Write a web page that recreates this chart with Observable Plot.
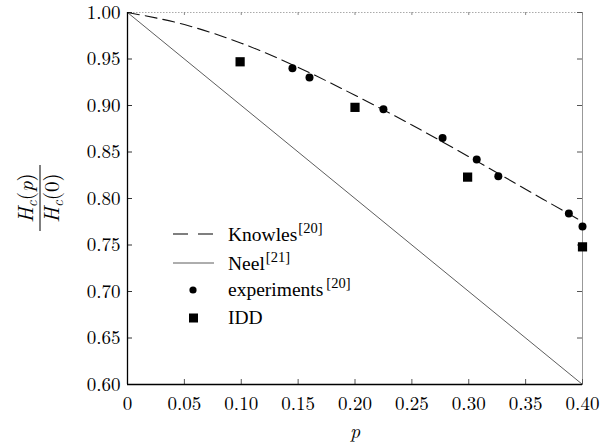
<!DOCTYPE html>
<html>
<head>
<meta charset="utf-8">
<script src="https://cdn.jsdelivr.net/npm/d3@7"></script>
<script src="https://cdn.jsdelivr.net/npm/@observablehq/plot@0.6"></script>
<style>
  html, body { margin: 0; padding: 0; background: #fff; }
  #chart { width: 610px; height: 445px; }
</style>
</head>
<body>
<div id="chart"></div>
<script>
// ---- data ----
const xTicks = [0, 0.05, 0.10, 0.15, 0.20, 0.25, 0.30, 0.35, 0.40];
const yTicks = [0.60, 0.65, 0.70, 0.75, 0.80, 0.85, 0.90, 0.95, 1.00];

const knowlesP = [0, 0.05, 0.10, 0.15, 0.20, 0.25, 0.30, 0.35, 0.40];
const knowlesH = [1.000, 0.987, 0.967, 0.941, 0.911, 0.879, 0.845, 0.810, 0.775];

const neelP = [0, 0.40];
const neelH = [1.00, 0.60];

const expP = [0.145, 0.160, 0.225, 0.277, 0.307, 0.326, 0.388, 0.400];
const expH = [0.940, 0.930, 0.896, 0.865, 0.842, 0.824, 0.784, 0.770];

const iddP = [0.099, 0.200, 0.299, 0.400];
const iddH = [0.947, 0.898, 0.823, 0.748];

const legendLabels = ["Knowles", "Neel", "experiments", "IDD"];
const legendRefs = ["[20]", "[21]", "[20]", ""];

// ---- build tables ----
const knowles = knowlesP.map((p, i) => ({p, h: knowlesH[i]}));
const neel = neelP.map((p, i) => ({p, h: neelH[i]}));
const exp = expP.map((p, i) => ({p, h: expH[i]}));
const idd = iddP.map((p, i) => ({p, h: iddH[i]}));

const W = 610, H = 445, mL = 127, mR = 28, mT = 12, mB = 61;
const pw = W - mL - mR, ph = H - mT - mB;
const fmt = d => d === 0 ? "0" : d.toFixed(2);
const CM = '"Latin Modern Roman"';
const TIMES = '"Liberation Serif"';

const chart = Plot.plot({
  width: W, height: H,
  marginLeft: mL, marginRight: mR, marginTop: mT, marginBottom: mB,
  x: {domain: [0, 0.4]},
  y: {domain: [0.6, 1.0]},
  style: {fontFamily: CM, fontSize: "19px", color: "#000", background: "#fff"},
  marks: [
    // frame: top dotted, right grey
    Plot.ruleY([1.0], {stroke: "#aaa", strokeDasharray: "1.5,1.5", strokeWidth: 1}),
    Plot.ruleX([0.4], {stroke: "#999", strokeWidth: 1}),
    // inward ticks
    Plot.tickX(xTicks, {x: d => d, insetTop: ph - 5, stroke: "#555"}),
    Plot.tickX(xTicks, {x: d => d, insetBottom: ph - 3, stroke: "#888"}),
    Plot.tickY(yTicks, {y: d => d, insetRight: pw - 5, stroke: "#333"}),
    Plot.tickY(yTicks, {y: d => d, insetLeft: pw - 5, stroke: "#555"}),
    // axis labels
    Plot.axisX(xTicks, {tickSize: 0, tickPadding: 12, tickFormat: fmt, label: null, fontFamily: CM, fontSize: 19}),
    Plot.axisY(yTicks, {tickSize: 0, tickPadding: 7, tickFormat: fmt, label: null, fontFamily: CM, fontSize: 19}),
    // lines
    Plot.line(neel, {x: "p", y: "h", stroke: "#333", strokeWidth: 0.8}),
    Plot.line(knowles, {x: "p", y: "h", stroke: "#111", strokeWidth: 1.1, strokeDasharray: "12,6", curve: "monotone-x"}),
    // points
    Plot.dot(exp, {x: "p", y: "h", r: 4, fill: "#000", stroke: "none"}),
    Plot.dot(idd, {x: "p", y: "h", r: 5.2, symbol: "square", fill: "#000", stroke: "none"}),
    // axis lines
    Plot.ruleX([0], {stroke: "#000", strokeWidth: 1.3}),
    Plot.ruleY([0.6], {stroke: "#000", strokeWidth: 1.3})
  ]
});

document.getElementById("chart").appendChild(chart);
const svg = d3.select(chart);
svg.selectAll("g[aria-label$='tick label'] text").style("font-family", CM).style("font-size", "19px");

// ---- legend ----
const lg = svg.append("g").attr("text-anchor", "start").style("font-family", TIMES);
const rowY = [234, 263, 290, 318];
const baseY = [241, 270, 296, 324];
lg.append("line").attr("x1", 173).attr("x2", 214).attr("y1", rowY[0]).attr("y2", rowY[0])
  .attr("stroke", "#000").attr("stroke-width", 1.2).attr("stroke-dasharray", "15,10");
lg.append("line").attr("x1", 173).attr("x2", 214).attr("y1", rowY[1]).attr("y2", rowY[1])
  .attr("stroke", "#333").attr("stroke-width", 0.8);
lg.append("circle").attr("cx", 193).attr("cy", rowY[2]).attr("r", 3.6).attr("fill", "#000");
lg.append("rect").attr("x", 189).attr("y", rowY[3] - 4.5).attr("width", 9).attr("height", 9).attr("fill", "#000");
legendLabels.forEach((lab, i) => {
  const t = lg.append("text").attr("x", 228).attr("y", baseY[i]).attr("fill", "#000")
    .attr("text-anchor", "start")
    .style("font-family", TIMES).style("font-size", "19.5px").style("font-weight", "normal");
  t.append("tspan").text(lab);
  if (legendRefs[i]) {
    t.append("tspan").style("font-size", "14.5px")
      .attr("dx", i === 2 ? 3 : 1).attr("dy", -8).text(legendRefs[i]);
  }
});

// ---- y title: Hc(p) / Hc(0), rotated ----
const yt = svg.append("g").attr("transform", "translate(40,198) rotate(-90)");
yt.append("line").attr("x1", -33).attr("x2", 33).attr("y1", 0).attr("y2", 0)
  .attr("stroke", "#000").attr("stroke-width", 1);
function frac(y, arg, argItalic) {
  const t = yt.append("text").attr("x", 0).attr("y", y).attr("text-anchor", "middle").attr("fill", "#000")
    .style("font-family", CM).style("font-size", "21px");
  t.append("tspan").style("font-style", "italic").text("H");
  t.append("tspan").style("font-style", "italic").style("font-size", "15px").attr("dy", 4).text("c");
  t.append("tspan").attr("dy", -4).text("(");
  t.append("tspan").style("font-style", argItalic ? "italic" : "normal").text(arg);
  t.append("tspan").text(")");
}
frac(-7, "p", true);
frac(19, "0", false);

// ---- x title ----
svg.append("text").attr("x", 355).attr("y", 438).attr("text-anchor", "middle")
  .style("font-family", CM).style("font-style", "italic").style("font-size", "20px")
  .attr("fill", "#000").text("p");
</script>
</body>
</html>
